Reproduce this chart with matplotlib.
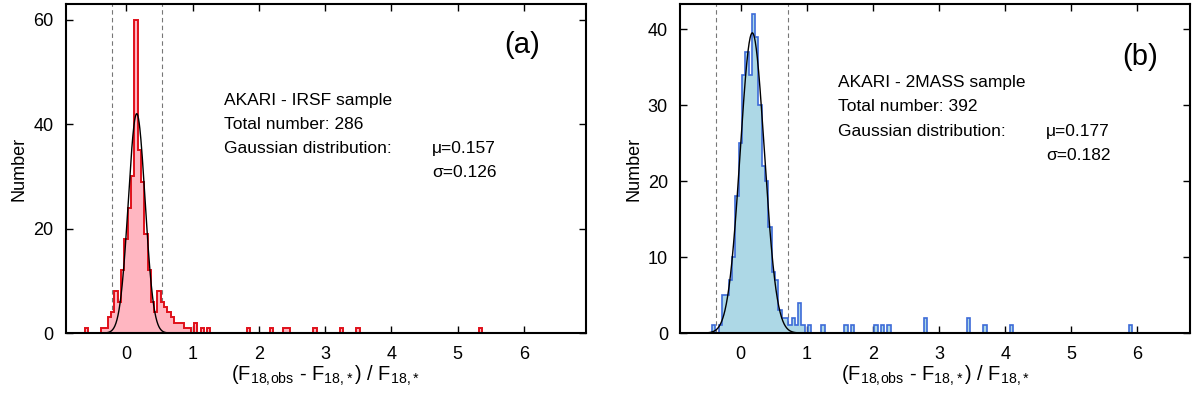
import numpy as np
import matplotlib
matplotlib.use('Agg')
from matplotlib import pyplot as plt

plt.rcParams['font.family'] = ['Liberation Sans', 'DejaVu Sans']
plt.rcParams['mathtext.fontset'] = 'custom'
plt.rcParams['mathtext.rm'] = 'Liberation Sans'
plt.rcParams['mathtext.it'] = 'Liberation Sans:italic'

# bin centres (width 0.05) and counts
irsf_centers = [-0.605, -0.355, -0.305, -0.255, -0.205, -0.155, -0.105, -0.055, -0.005,
                0.045, 0.095, 0.145, 0.195, 0.245, 0.295, 0.345, 0.395, 0.445, 0.495,
                0.545, 0.595, 0.645, 0.695, 0.745, 0.795, 0.845, 0.895, 0.945, 1.045,
                1.145, 1.245, 1.845, 2.195, 2.395, 2.445, 2.845, 3.245, 3.495, 5.345]
irsf_counts = [1, 1, 1, 3, 4, 8, 6, 12, 18,
               24, 30, 60, 35, 29, 19, 12, 6, 4, 8,
               6, 5, 4, 3, 2, 2, 2, 1, 1, 2,
               1, 1, 1, 1, 1, 1, 1, 1, 1, 1]

tmass_centers = [-0.405, -0.305, -0.255, -0.205, -0.155, -0.105, -0.055, -0.005,
                 0.045, 0.095, 0.145, 0.195, 0.245, 0.295, 0.345, 0.395, 0.445, 0.495,
                 0.545, 0.595, 0.645, 0.695, 0.745, 0.795, 0.845, 0.895, 0.945, 1.045,
                 1.245, 1.595, 1.695, 2.045, 2.145, 2.245, 2.795, 3.445, 3.695, 4.095, 5.895]
tmass_counts = [1, 1, 5, 5, 7, 10, 18, 25,
                34, 37, 34, 42, 39, 30, 22, 20, 14, 8,
                7, 3, 2, 2, 1, 2, 1, 4, 1, 1,
                1, 1, 1, 1, 1, 1, 2, 2, 1, 1, 1]

# gaussian fits: amplitude, mu, sigma
irsf_fit = (42.0, 0.157, 0.126)
tmass_fit = (39.5, 0.177, 0.182)

edges = np.arange(-1.03, 7.0, 0.05)
xlab = r'(F$_{\mathrm{18,\!obs}}$ - F$_{\mathrm{18,\!*}}$) / F$_{\mathrm{18,\!*}}$'

fig = plt.figure(figsize=(12, 3.97), dpi=100)
ax1 = fig.add_axes([0.055, 0.161, 0.433, 0.829])
ax2 = fig.add_axes([0.567, 0.161, 0.425, 0.829])

panels = [
    (ax1, irsf_centers, irsf_counts, irsf_fit, '#ffb6c1', '#e0101a', 1.4, (-0.91, 6.93), 63, [0, 20, 40, 60],
     '(a)', 'AKARI - IRSF sample', 'Total number: 286', (0.877, 0.875), (0.304, 0.704), 0.708),
    (ax2, tmass_centers, tmass_counts, tmass_fit, '#add8e6', '#3d6bd8', 1.2, (-0.91, 6.8), 43.3, [0, 10, 20, 30, 40],
     '(b)', 'AKARI - 2MASS sample', 'Total number: 392', (0.902, 0.84), (0.31, 0.717), 0.76),
]

for ax, cen, cnt, fit, fc, ec, elw, xl, ytop, yt, tag, l1, l2, tagpos, tx, ty in panels:
    ax.hist(cen, bins=edges, weights=cnt, histtype='stepfilled', facecolor=fc,
            edgecolor=ec, linewidth=elw, zorder=2)
    amp, mu, sig = fit
    xs = np.linspace(xl[0], xl[1], 1500)
    ax.plot(xs, amp * np.exp(-0.5 * ((xs - mu) / sig) ** 2), color='black', lw=1.0, zorder=3)
    for v in (mu - 3 * sig, mu + 3 * sig):
        ax.axvline(v, color='#777777', lw=0.8, ls=(0, (4, 3)), zorder=1)
    ax.set_xlim(*xl)
    ax.set_ylim(0, ytop)
    ax.set_xticks(range(0, 7))
    ax.set_yticks(yt)
    ax.tick_params(direction='in', top=True, right=True, length=5, width=1.0,
                   labelsize=13, pad=9)
    for s in ax.spines.values():
        s.set_linewidth(1.5)
    ax.set_xlabel(xlab, fontsize=14.5, labelpad=1)
    ax.set_ylabel('Number', fontsize=13)
    ax.text(tagpos[0], tagpos[1], tag, transform=ax.transAxes, fontsize=21,
            ha='center', va='center')
    dy = 0.073
    ax.text(tx[0], ty, l1, transform=ax.transAxes, fontsize=12.5, va='center')
    ax.text(tx[0], ty - dy, l2, transform=ax.transAxes, fontsize=12.5, va='center')
    ax.text(tx[0], ty - 2 * dy, 'Gaussian distribution:', transform=ax.transAxes,
            fontsize=12.5, va='center')
    ax.text(tx[1], ty - 2 * dy, 'μ=%.3f' % mu, transform=ax.transAxes,
            fontsize=12.5, va='center')
    ax.text(tx[1], ty - 3 * dy, 'σ=%.3f' % sig, transform=ax.transAxes,
            fontsize=12.5, va='center')

fig.savefig('out.png', dpi=100)
